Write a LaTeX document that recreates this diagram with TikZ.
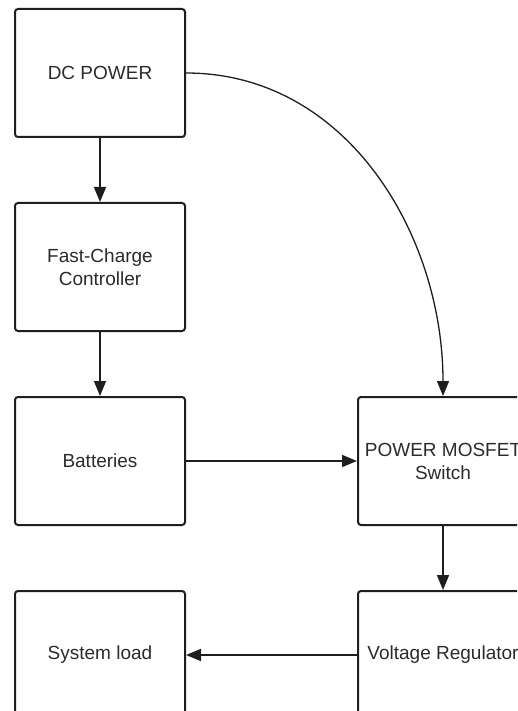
\documentclass[tikz,border=0pt]{standalone}
\usepackage{fontspec}
\setmainfont{Liberation Sans}
\usepackage{xcolor}
\usepackage{tikz}
\usetikzlibrary{arrows.meta,positioning}
\definecolor{boxline}{HTML}{1E1E1E}
\definecolor{labeltext}{HTML}{2B2B2B}

\begin{document}
\begin{tikzpicture}[x=1pt,y=1pt,
    font=\fontsize{19}{23}\selectfont,
    block/.style={draw=boxline,line width=2pt,rounded corners=3pt,
      minimum width=170pt,minimum height=128pt,align=center,text=labeltext},
    flow/.style={line width=1.6pt,draw=boxline,
      -{Triangle[length=15pt,width=12pt]}},
    node distance=64pt and 171pt]
  \useasboundingbox (0,0) rectangle (517,-711);
  \clip (0,0) rectangle (517,-711);
  % left column
  \node[block] (dcpower) at (100,-73) {DC POWER};
  \node[block,below=of dcpower] (charger) {Fast-Charge\\Controller};
  \node[block,below=of charger] (batteries) {Batteries};
  \node[block,below=of batteries] (load) {System load};
  % right column
  \node[block,right=of batteries] (mosfet) {POWER MOSFET\\Switch};
  \node[block,below=of mosfet] (regulator) {Voltage Regulator};
  % connectors
  \draw[flow] (dcpower) -- (charger);
  \draw[flow] (charger) -- (batteries);
  \draw[flow] (batteries) -- (mosfet);
  \draw[flow] (mosfet) -- (regulator);
  \draw[flow] (regulator) -- (load);
  \draw[flow,line width=1.3pt] (dcpower.east) to[out=0,in=90] (mosfet.north);
\end{tikzpicture}
\end{document}
